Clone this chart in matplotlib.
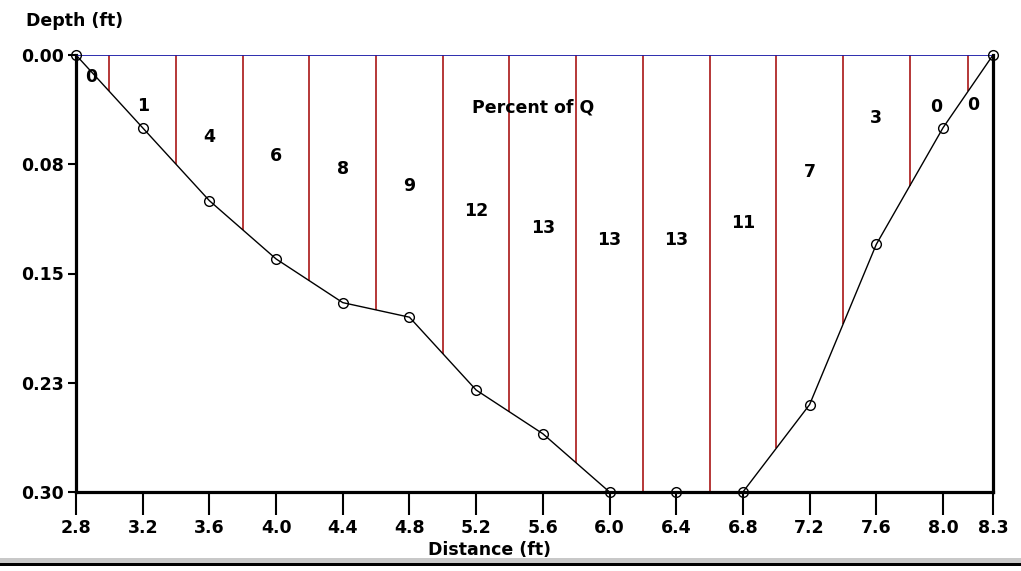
import numpy as np
import matplotlib
matplotlib.use('Agg')
import matplotlib.pyplot as plt
from matplotlib.patches import Rectangle

# stream cross-section (station, depth)
distance = [2.8, 3.2, 3.6, 4.0, 4.4, 4.8, 5.2, 5.6, 6.0, 6.4, 6.8, 7.2, 7.6, 8.0, 8.3]
depth = [0.00, 0.05, 0.10, 0.14, 0.17, 0.18, 0.23, 0.26, 0.30, 0.30, 0.30, 0.24, 0.13, 0.05, 0.00]

# subsection boundaries
boundaries = [3.0, 3.4, 3.8, 4.2, 4.6, 5.0, 5.4, 5.8, 6.2, 6.6, 7.0, 7.4, 7.8, 8.15]

# percent of discharge in each subsection
percent_q = [0, 1, 4, 6, 8, 9, 12, 13, 13, 13, 11, 7, 3, 0, 0]
label_x = [2.89, 3.2, 3.6, 4.0, 4.4, 4.8, 5.2, 5.6, 6.0, 6.4, 6.8, 7.2, 7.6, 7.96, 8.18]
label_depth = [0.015, 0.035, 0.056, 0.069, 0.078, 0.090, 0.107, 0.119, 0.127, 0.127,
               0.115, 0.080, 0.043, 0.036, 0.034]

xticks = [2.8, 3.2, 3.6, 4.0, 4.4, 4.8, 5.2, 5.6, 6.0, 6.4, 6.8, 7.2, 7.6, 8.0, 8.3]
yticks = [0.0, 0.075, 0.15, 0.225, 0.30]
ytick_labels = ['0.00', '0.08', '0.15', '0.23', '0.30']

plt.rcParams['font.family'] = ['DejaVu Sans']
plt.rcParams['font.weight'] = 'bold'
fs = 12.5

fig = plt.figure(figsize=(10.21, 5.71), dpi=100)
ax = fig.add_axes([76 / 1021, 79 / 571, 917 / 1021, 437 / 571])

# subsection verticals down to the bed
bed = np.interp(boundaries, distance, depth)
ax.vlines(boundaries, 0, bed, color='#b02828', lw=1.3, zorder=2)

# water surface
ax.plot([distance[0], distance[-1]], [0, 0], color='#1c1ca8', lw=1.3, zorder=3)

# bed profile
ax.plot(distance, depth, color='black', lw=1.0, marker='o', ms=7,
        mfc='none', mec='black', mew=1.0, zorder=4, clip_on=False)

for x, d, p in zip(label_x, label_depth, percent_q):
    ax.text(x, d, str(p), ha='center', va='center', fontsize=fs, fontweight='bold')

ax.text(5.54, 0.036, 'Percent of Q', ha='center', va='center', fontsize=fs, fontweight='bold')

ax.set_xlim(2.8, 8.3)
ax.set_ylim(0.30, 0.0)

ax.set_xticks(xticks)
ax.set_xticklabels([f'{t:.1f}' for t in xticks])
ax.set_yticks(yticks)
ax.set_yticklabels(ytick_labels)
ax.tick_params(axis='x', direction='out', length=16.5, width=1.5, pad=3, labelsize=fs)
ax.tick_params(axis='y', direction='out', length=6, width=1.5, pad=3, labelsize=fs)

for side in ['left', 'right', 'bottom']:
    ax.spines[side].set_linewidth(2.3)
ax.spines['top'].set_visible(False)

fig.text(75 / 1021, 1 - 21 / 571, 'Depth (ft)', ha='center', va='center', fontsize=fs, fontweight='bold')
fig.text(489 / 1021, 1 - 550 / 571, 'Distance (ft)', ha='center', va='center', fontsize=fs, fontweight='bold')

# window border strip at the bottom
fig.patches.append(Rectangle((0, 1 - 563 / 571), 1, 5 / 571, transform=fig.transFigure,
                             facecolor='#c8c8c8', edgecolor='none'))
fig.patches.append(Rectangle((0, 1 - 566 / 571), 1, 3 / 571, transform=fig.transFigure,
                             facecolor='black', edgecolor='none'))

fig.savefig('out.png', dpi=100)
